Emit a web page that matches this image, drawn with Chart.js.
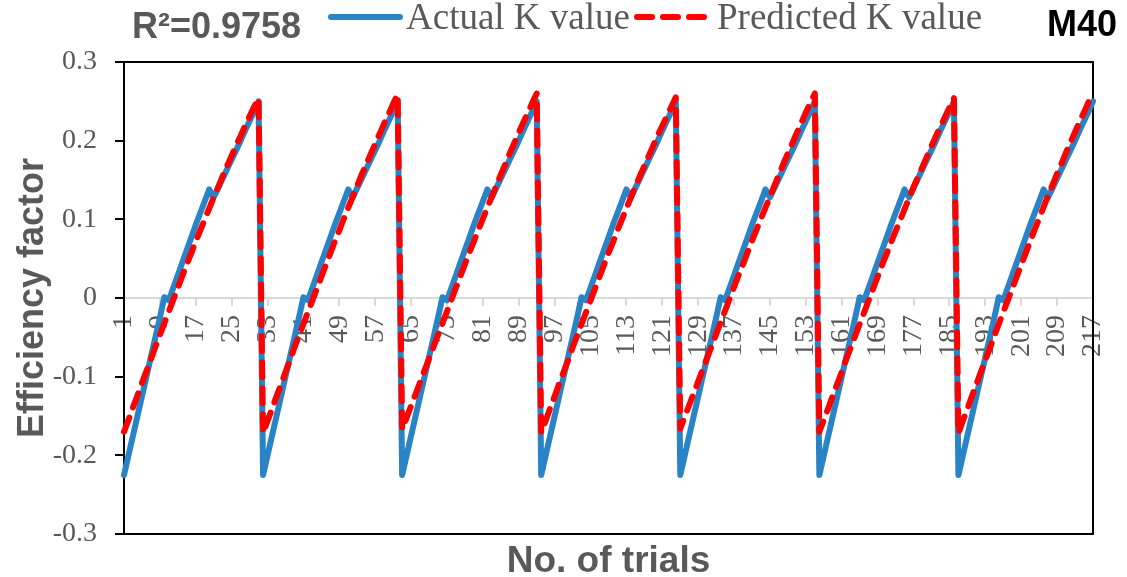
<!DOCTYPE html>
<html>
<head>
<meta charset="utf-8">
<script src="https://cdn.jsdelivr.net/npm/chart.js@4.4.1/dist/chart.umd.min.js"></script>
<style>
    html, body { margin: 0; padding: 0; background: #ffffff; }
    #wrap { position: relative; width: 1127px; height: 577px; }
</style>
</head>
<body>
<div id="wrap"><canvas id="myChart"></canvas></div>
<script>
var TICK_LABELS = [1, 9, 17, 25, 33, 41, 49, 57, 65, 73, 81, 89, 97, 105, 113, 121,
    129, 137, 145, 153, 161, 169, 177, 185, 193, 201, 209, 217];

var R_SQUARED = 'R\u00b2=0.9758';
var MIX_NAME = 'M40';

// 7 groups of 31 trials
var actualK = [
    -0.225, -0.200, -0.175, -0.150, -0.125, -0.100, -0.075, -0.050, -0.025, 0.001, -0.003, 0.013, 0.029, 0.045, 0.061, 0.077, 0.093, 0.108, 0.123, 0.138, 0.128, 0.140, 0.152, 0.164, 0.176, 0.188, 0.200, 0.213, 0.225, 0.237, 0.250,
    -0.225, -0.200, -0.175, -0.150, -0.125, -0.100, -0.075, -0.050, -0.025, 0.001, -0.003, 0.013, 0.029, 0.045, 0.061, 0.077, 0.093, 0.108, 0.123, 0.138, 0.128, 0.140, 0.152, 0.164, 0.176, 0.188, 0.200, 0.213, 0.225, 0.237, 0.250,
    -0.225, -0.200, -0.175, -0.150, -0.125, -0.100, -0.075, -0.050, -0.025, 0.001, -0.003, 0.013, 0.029, 0.045, 0.061, 0.077, 0.093, 0.108, 0.123, 0.138, 0.128, 0.140, 0.152, 0.164, 0.176, 0.188, 0.200, 0.213, 0.225, 0.237, 0.250,
    -0.225, -0.200, -0.175, -0.150, -0.125, -0.100, -0.075, -0.050, -0.025, 0.001, -0.003, 0.013, 0.029, 0.045, 0.061, 0.077, 0.093, 0.108, 0.123, 0.138, 0.128, 0.140, 0.152, 0.164, 0.176, 0.188, 0.200, 0.213, 0.225, 0.237, 0.250,
    -0.225, -0.200, -0.175, -0.150, -0.125, -0.100, -0.075, -0.050, -0.025, 0.001, -0.003, 0.013, 0.029, 0.045, 0.061, 0.077, 0.093, 0.108, 0.123, 0.138, 0.128, 0.140, 0.152, 0.164, 0.176, 0.188, 0.200, 0.213, 0.225, 0.237, 0.250,
    -0.225, -0.200, -0.175, -0.150, -0.125, -0.100, -0.075, -0.050, -0.025, 0.001, -0.003, 0.013, 0.029, 0.045, 0.061, 0.077, 0.093, 0.108, 0.123, 0.138, 0.128, 0.140, 0.152, 0.164, 0.176, 0.188, 0.200, 0.213, 0.225, 0.237, 0.250,
    -0.225, -0.200, -0.175, -0.150, -0.125, -0.100, -0.075, -0.050, -0.025, 0.001, -0.003, 0.013, 0.029, 0.045, 0.061, 0.077, 0.093, 0.108, 0.123, 0.138, 0.128, 0.140, 0.152, 0.164, 0.176, 0.188, 0.200, 0.213, 0.225, 0.237, 0.250
];

var predictedK = [
    -0.170, -0.155, -0.139, -0.124, -0.108, -0.093, -0.078, -0.062, -0.047, -0.032, -0.017, -0.002, 0.013, 0.028, 0.043, 0.057, 0.072, 0.086, 0.100, 0.114, 0.128, 0.141, 0.155, 0.168, 0.181, 0.194, 0.206, 0.219, 0.231, 0.243, 0.254,
    -0.172, -0.156, -0.141, -0.125, -0.110, -0.094, -0.079, -0.063, -0.048, -0.033, -0.018, -0.003, 0.012, 0.027, 0.042, 0.057, 0.072, 0.086, 0.101, 0.115, 0.129, 0.143, 0.157, 0.170, 0.183, 0.196, 0.209, 0.222, 0.234, 0.247, 0.259,
    -0.167, -0.152, -0.137, -0.122, -0.107, -0.092, -0.077, -0.062, -0.047, -0.032, -0.017, -0.002, 0.013, 0.028, 0.043, 0.058, 0.072, 0.087, 0.101, 0.115, 0.129, 0.143, 0.157, 0.170, 0.184, 0.197, 0.210, 0.223, 0.235, 0.248, 0.260,
    -0.171, -0.156, -0.140, -0.125, -0.109, -0.094, -0.079, -0.063, -0.048, -0.033, -0.018, -0.003, 0.012, 0.027, 0.042, 0.057, 0.071, 0.086, 0.100, 0.114, 0.128, 0.142, 0.155, 0.168, 0.181, 0.194, 0.207, 0.219, 0.231, 0.243, 0.255,
    -0.166, -0.151, -0.136, -0.121, -0.106, -0.091, -0.076, -0.061, -0.046, -0.031, -0.016, -0.001, 0.014, 0.029, 0.043, 0.058, 0.073, 0.087, 0.101, 0.115, 0.129, 0.143, 0.157, 0.171, 0.184, 0.197, 0.210, 0.223, 0.236, 0.248, 0.260,
    -0.170, -0.155, -0.140, -0.124, -0.109, -0.094, -0.078, -0.063, -0.048, -0.033, -0.018, -0.003, 0.012, 0.027, 0.042, 0.056, 0.071, 0.085, 0.099, 0.113, 0.127, 0.141, 0.154, 0.167, 0.180, 0.193, 0.206, 0.218, 0.230, 0.242, 0.254,
    -0.172, -0.156, -0.141, -0.125, -0.110, -0.094, -0.079, -0.064, -0.048, -0.033, -0.018, -0.003, 0.012, 0.027, 0.042, 0.057, 0.072, 0.087, 0.101, 0.116, 0.130, 0.144, 0.158, 0.171, 0.185, 0.198, 0.211, 0.224, 0.236, 0.249, 0.261
];

var trials = [];
for (var i = 1; i <= actualK.length; i++) {
    trials.push(i);
}

var GRAY_TEXT = '#595959';
var chart;

// black box round the plot area
var framePlugin = {
    id: 'frame',
    beforeDatasetsDraw: function(chart) {
        var area = chart.chartArea;
        var ctx = chart.ctx;

        ctx.save();
        ctx.strokeStyle = '#000000';
        ctx.lineWidth = 2;
        ctx.strokeRect(area.left, area.top, area.right - area.left, area.bottom - area.top);
        ctx.restore();
    }
};

// R² note, legend row and mix name along the top
var headerPlugin = {
    id: 'header',
    afterDraw: function(chart) {
        var ctx = chart.ctx;
        var datasets = chart.data.datasets;
        var legendPos = [{x: 328, w: 75}, {x: 634, w: 80}];

        ctx.save();
        ctx.textBaseline = 'alphabetic';
        ctx.textAlign = 'left';

        ctx.fillStyle = GRAY_TEXT;
        ctx.font = 'bold 36px "Liberation Sans", Arial, sans-serif';
        ctx.fillText(R_SQUARED, 132, 38);

        ctx.fillStyle = '#000000';
        ctx.fillText(MIX_NAME, 1047, 36);

        ctx.font = '37px "Liberation Serif", "Times New Roman", serif';
        eachItem(datasets, function(index, ds) {
            var pos = legendPos[index];

            ctx.beginPath();
            ctx.strokeStyle = ds.borderColor;
            ctx.lineWidth = 6;
            ctx.lineCap = 'round';
            ctx.setLineDash(ds.borderDash || []);
            ctx.moveTo(pos.x + 3, 17);
            ctx.lineTo(pos.x + pos.w - 3, 17);
            ctx.stroke();
            ctx.setLineDash([]);

            ctx.fillStyle = GRAY_TEXT;
            ctx.fillText(ds.label, pos.x + pos.w + 3, 29);
        });
        ctx.restore();
    }
};

function eachItem(list, fn) {
    for (var k = 0; k < list.length; k++) {
        fn(k, list[k]);
    }
}

function buildChart() {
    var ctx = document.getElementById('myChart');

    chart = new Chart(ctx, {
        type: 'line',
        data: {
            labels: trials,
            datasets: [{
                label: 'Actual K value',
                data: actualK,
                borderColor: '#2983c7',
                borderWidth: 6,
                borderCapStyle: 'round',
                borderJoinStyle: 'round',
                pointRadius: 0,
                tension: 0,
                order: 1
            }, {
                label: 'Predicted K value',
                data: predictedK,
                borderColor: '#ff0000',
                borderWidth: 6,
                borderDash: [15, 11],
                borderCapStyle: 'round',
                borderJoinStyle: 'round',
                pointRadius: 0,
                tension: 0,
                order: 0
            }]
        },
        options: {
            responsive: true,
            maintainAspectRatio: false,
            animation: false,
            layout: {
                padding: {top: 62, right: 34, bottom: 0, left: 0}
            },
            plugins: {
                legend: {display: false},
                tooltip: {enabled: false}
            },
            scales: {
                x: {
                    position: {y: 0},
                    offset: false,
                    grid: {
                        drawOnChartArea: false,
                        tickLength: 7,
                        color: '#d9d9d9',
                        lineWidth: 2
                    },
                    border: {color: '#d9d9d9', width: 2},
                    ticks: {
                        autoSkip: false,
                        minRotation: 90,
                        maxRotation: 90,
                        padding: 10,
                        color: GRAY_TEXT,
                        font: {family: '"Liberation Serif", "Times New Roman", serif', size: 28},
                        callback: function(value) {
                            var label = this.getLabelForValue(value);
                            return TICK_LABELS.indexOf(label) >= 0 ? String(label) : null;
                        }
                    },
                    afterFit: function(scale) {
                        // labels may spill past the plot edges, like the original
                        scale.paddingLeft = 0;
                        scale.paddingRight = 0;
                    }
                },
                x2: {
                    type: 'linear',
                    position: 'bottom',
                    grid: {display: false},
                    border: {display: false},
                    ticks: {display: false},
                    title: {
                        display: true,
                        text: 'No. of trials',
                        color: GRAY_TEXT,
                        font: {family: '"Liberation Sans", Arial, sans-serif', size: 37, weight: 'bold', lineHeight: 0.84},
                        padding: {top: 0, bottom: 0}
                    },
                    afterFit: function(scale) {
                        scale.height = 43;
                    }
                },
                y: {
                    min: -0.3,
                    max: 0.3,
                    grid: {
                        drawOnChartArea: false,
                        tickLength: 9,
                        color: '#000000',
                        lineWidth: 2
                    },
                    border: {color: '#000000', width: 2},
                    ticks: {
                        stepSize: 0.1,
                        padding: 18,
                        color: GRAY_TEXT,
                        font: {family: '"Liberation Serif", "Times New Roman", serif', size: 28},
                        callback: function(value) {
                            return Math.abs(value) < 1e-9 ? '0' : value.toFixed(1);
                        }
                    },
                    title: {
                        display: true,
                        text: 'Efficiency factor',
                        color: GRAY_TEXT,
                        font: {family: '"Liberation Sans", Arial, sans-serif', size: 36, weight: 'bold'},
                        padding: {top: 11, bottom: 0}
                    },
                    afterFit: function(scale) {
                        scale.width = 124;
                    }
                }
            }
        },
        plugins: [framePlugin, headerPlugin]
    });
}

buildChart();
</script>
</body>
</html>
